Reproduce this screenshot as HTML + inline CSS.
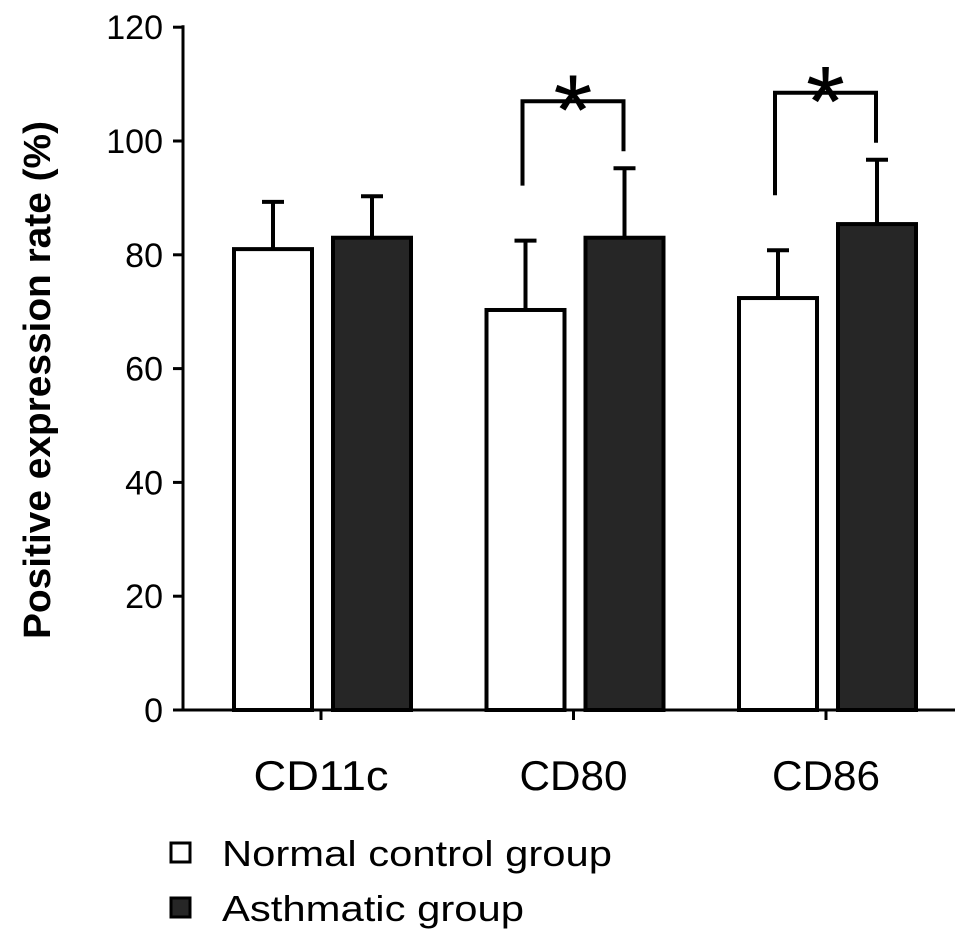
<!DOCTYPE html>
<html><head><meta charset="utf-8"><style>
body{margin:0;background:#fff;}
svg{display:block;font-family:"Liberation Sans",sans-serif;}
</style></head><body>
<svg id="chart" width="969" height="946">
<g id="g"></g>
</svg>
<script>
const categories=["CD11c","CD80","CD86"];
const normalValues=[81,70.3,72.4];
const normalErrors=[8.3,12.2,8.4];
const asthmaValues=[83,83,85.4];
const asthmaErrors=[7.3,12.2,11.3];
const yTicks=[0,20,40,60,80,100,120];
const sigPairs=[1,2];
const NS="http://www.w3.org/2000/svg";
const g=document.getElementById('g');
const y0=710,pxPer=5.69,x0=183,catW=252.5;
function y(v){return y0-v*pxPer;}
function catX(i){return 321+catW*i;}
function mk(t,a,p){const e=document.createElementNS(NS,t);for(const k in a)e.setAttribute(k,a[k]);(p||g).appendChild(e);return e;}
let e;
e=mk('line',{x1:x0,y1:y(120)-2,x2:x0,y2:y0,stroke:'#000','stroke-width':3});


e=mk('line',{x1:x0,y1:y0,x2:955,y2:y0,stroke:'#000','stroke-width':3});


yTicks.forEach(t=>{
 e=mk('line',{x1:x0-10,y1:y(t),x2:x0,y2:y(t),stroke:'#000','stroke-width':3});
 
 
 e=mk('text',{x:x0-20,y:y(t)+12,'text-anchor':'end','font-size':34});
 e.textContent=t;
 
 
});
categories.forEach((c,i)=>{
 const cx=catX(i);
 e=mk('line',{x1:cx,y1:y0,x2:cx,y2:y0+10,stroke:'#000','stroke-width':3});
 
 
 e=mk('text',{x:cx,y:790,'text-anchor':'middle','font-size':42,textLength:c.length*27,lengthAdjust:'spacingAndGlyphs'});
 e.textContent=c;
 
 
 [[normalValues,normalErrors,'#fff',-48,'normal'],[asthmaValues,asthmaErrors,'#262626',51,'asthma']].forEach(s=>{
  const v=s[0][i],er=s[1][i],bx=cx+s[3]-39;
  e=mk('line',{x1:cx+s[3],y1:y(v),x2:cx+s[3],y2:y(v+er),stroke:'#000','stroke-width':4});
  
  
  e=mk('line',{x1:cx+s[3]-11,y1:y(v+er),x2:cx+s[3]+11,y2:y(v+er),stroke:'#000','stroke-width':4});
  
  
  e=mk('rect',{x:bx,y:y(v),width:78,height:y0-y(v),fill:s[2],stroke:'#000','stroke-width':4});
  
  
 });
});
sigPairs.forEach(i=>{
 const cx=catX(i);
 const lx=cx-51,rx=cx+50;
 const top=y(asthmaValues[i]+asthmaErrors[i])-67;
 e=mk('polyline',{points:`${lx},${y(normalValues[i]+normalErrors[i])-55} ${lx},${top} ${rx},${top} ${rx},${top+50}`,fill:'none',stroke:'#000','stroke-width':4});
 
 
 e=mk('text',{x:(lx+rx)/2,y:top+43,'text-anchor':'middle','font-size':100});
 e.textContent='*';
 
 
});
e=mk('text',{x:0,y:0,transform:'translate(50,380) rotate(-90)','text-anchor':'middle','font-size':38,'font-weight':'bold',textLength:518,lengthAdjust:'spacingAndGlyphs'});
e.textContent='Positive expression rate (%)';


[['#fff','Normal control group',843,390],['#262626','Asthmatic group',898,302]].forEach(l=>{
 e=mk('rect',{x:171,y:l[2],width:19,height:19,fill:l[0],stroke:'#000','stroke-width':3});
 
 
 e=mk('text',{x:222,y:l[2]+23,'font-size':36,textLength:l[3],lengthAdjust:'spacingAndGlyphs'});
 e.textContent=l[1];
 
 
});
</script>
</body></html>
